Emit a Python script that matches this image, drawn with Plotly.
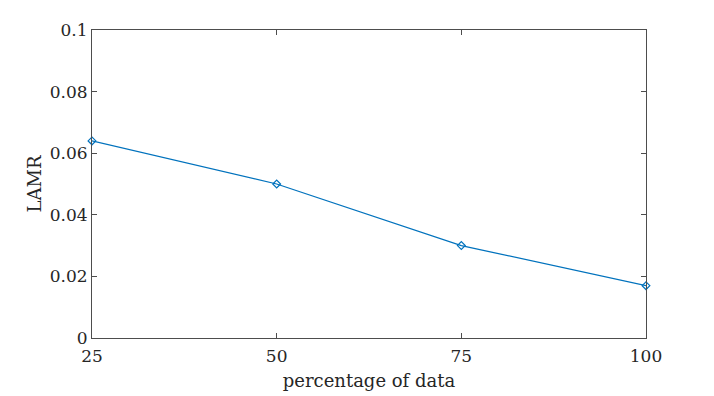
import plotly.graph_objects as go

# data
pct_data = [25, 50, 75, 100]
lamr = [0.064, 0.050, 0.030, 0.017]

x_ticks = [25, 50, 75, 100]
y_ticks = [0, 0.02, 0.04, 0.06, 0.08, 0.1]
y_labels = ["0", "0.02", "0.04", "0.06", "0.08", "0.1"]

BLUE = "#0072BD"
AXIS = "#4d4d4d"
FONT = "DejaVu Serif, serif"
TXT = "#262626"

fig = go.Figure()
fig.add_trace(go.Scatter(
    x=pct_data, y=lamr, mode="lines+markers",
    line=dict(color=BLUE, width=1.2),
    marker=dict(symbol="diamond-open", size=6, color=BLUE, line=dict(width=1.2)),
    cliponaxis=False, showlegend=False,
))

axis_common = dict(
    showgrid=False, zeroline=False, showline=True, linecolor=AXIS, linewidth=1,
    mirror="allticks", ticks="inside", ticklen=5, tickcolor=AXIS,
    tickfont=dict(family=FONT, size=17, color=TXT),
)
fig.update_xaxes(
    range=[25, 100], tickvals=x_ticks, ticklabelstandoff=3,
    title=dict(text="percentage of data", font=dict(family=FONT, size=18, color=TXT), standoff=8),
    **axis_common,
)
fig.update_yaxes(
    range=[0, 0.1], tickvals=y_ticks, ticktext=y_labels,
    title=dict(text="LAMR", font=dict(family=FONT, size=18, color=TXT), standoff=3),
    **axis_common,
)
fig.update_layout(
    width=714, height=396,
    font=dict(family=FONT, color=TXT),
    margin=dict(l=84, r=76, t=22, b=66),
    plot_bgcolor="white", paper_bgcolor="white",
)
fig.write_html("out.html")
